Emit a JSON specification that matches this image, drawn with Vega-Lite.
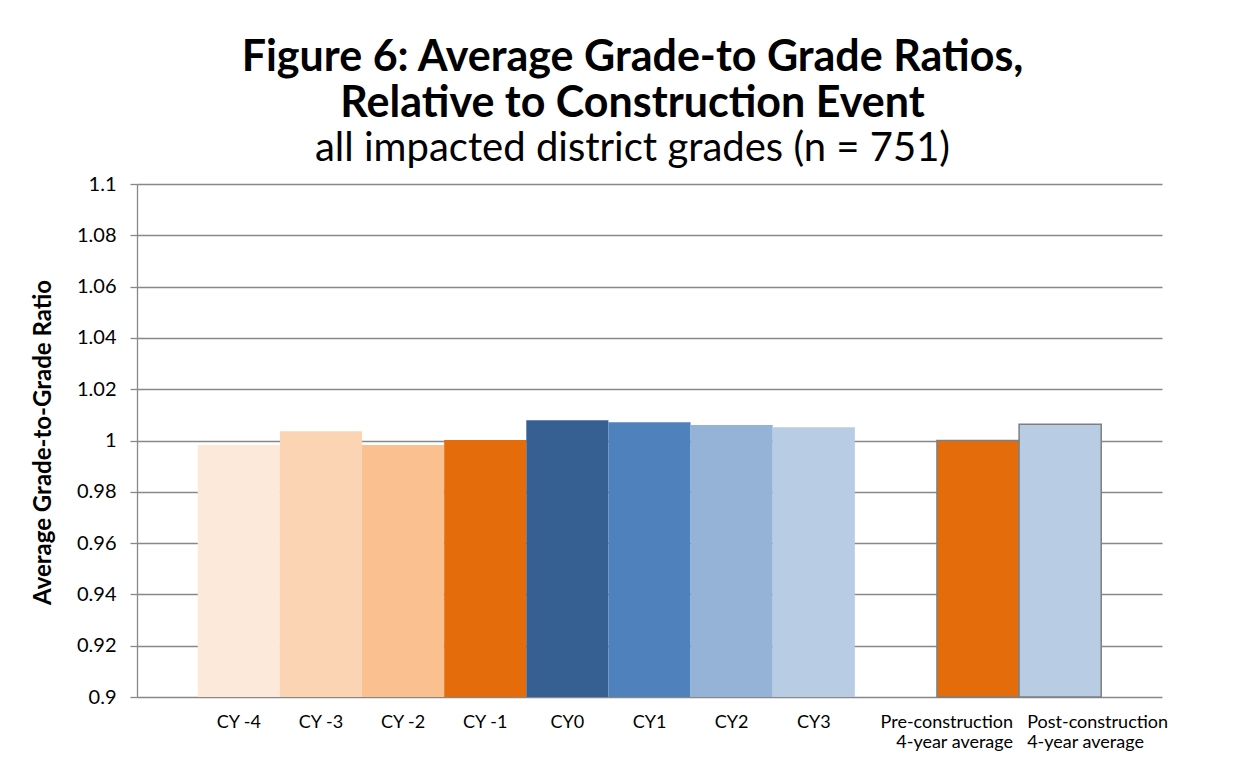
{
  "$schema": "https://vega.github.io/schema/vega-lite/v6.json",
  "width": 1025,
  "height": 513,
  "autosize": {"type": "none"},
  "padding": {"left": 137, "top": 184, "right": 85, "bottom": 65},
  "background": "white",
  "config": {"view": {"stroke": null}},
  "title": {
    "text": ["Figure 6: Average Grade-to Grade Ratios,", "Relative to Construction Event"],
    "subtitle": "all impacted district grades (n = 751)",
    "font": "Lato",
    "fontSize": 43,
    "fontWeight": "bold",
    "color": "black",
    "subtitleFont": "Lato",
    "subtitleFontSize": 40,
    "subtitleFontWeight": "normal",
    "subtitleColor": "black",
    "anchor": "middle",
    "dx": -17,
    "lineHeight": 46,
    "subtitleLineHeight": 44,
    "subtitlePadding": 3,
    "offset": 5
  },
  "data": {
    "values": [
      {"cat": "CY -4", "ratio": 0.9982},
      {"cat": "CY -3", "ratio": 1.0036},
      {"cat": "CY -2", "ratio": 0.9982},
      {"cat": "CY -1", "ratio": 1.0002},
      {"cat": "CY0", "ratio": 1.0079},
      {"cat": "CY1", "ratio": 1.0071},
      {"cat": "CY2", "ratio": 1.006},
      {"cat": "CY3", "ratio": 1.0052},
      {"cat": "Pre-construction|4-year average", "ratio": 1.0},
      {"cat": "Post-construction|4-year average", "ratio": 1.0063}
    ]
  },
  "mark": {"type": "bar", "stroke": "#7f7f7f"},
  "encoding": {
    "x": {
      "field": "cat",
      "type": "nominal",
      "sort": null,
      "scale": {
        "domain": ["CY -4", "CY -3", "CY -2", "CY -1", "CY0", "CY1", "CY2", "CY3", " ", "Pre-construction|4-year average", "Post-construction|4-year average"],
        "paddingInner": 0,
        "paddingOuter": 0.74
      },
      "axis": {
        "title": null,
        "labelAngle": 0,
        "domain": false,
        "ticks": false,
        "labelFont": "Lato",
        "labelFontSize": 18,
        "labelColor": "black",
        "labelPadding": 16,
        "labelBaseline": "top",
        "labelLineHeight": 20,
        "labelExpr": "split(datum.value, '|')",
        "labelAlign": {
          "condition": [
            {"test": "indexof(datum.value, 'Pre-') == 0", "value": "right"},
            {"test": "indexof(datum.value, 'Post-') == 0", "value": "left"}
          ],
          "value": "center"
        },
        "labelOffset": {
          "condition": [
            {"test": "indexof(datum.value, 'Pre-') == 0", "value": 35},
            {"test": "indexof(datum.value, 'Post-') == 0", "value": -33}
          ],
          "value": 0
        }
      }
    },
    "y": {
      "field": "ratio",
      "type": "quantitative",
      "scale": {"domain": [0.9, 1.1], "zero": false, "nice": false},
      "axis": {
        "values": [0.9, 0.92, 0.94, 0.96, 0.98, 1, 1.02, 1.04, 1.06, 1.08, 1.1],
        "format": "~g",
        "title": "Average Grade-to-Grade Ratio",
        "titleFont": "Lato",
        "titleFontSize": 24,
        "titleFontWeight": "bold",
        "titleColor": "black",
        "titleX": -94,
        "titleY": 258,
        "titleBaseline": "middle",
        "titleAlign": "center",
        "titleAngle": -90,
        "labelFont": "Lato",
        "labelFontSize": 20,
        "labelColor": "black",
        "labelPadding": 14,
        "tickSize": 7,
        "tickColor": "#888888",
        "tickWidth": 1.3,
        "domainColor": "#888888",
        "domainWidth": 1.3,
        "grid": true,
        "gridColor": "#888888",
        "gridWidth": 1.3
      }
    },
    "y2": {"datum": 0.9},
    "color": {
      "field": "cat",
      "type": "nominal",
      "scale": {
        "domain": ["CY -4", "CY -3", "CY -2", "CY -1", "CY0", "CY1", "CY2", "CY3", "Pre-construction|4-year average", "Post-construction|4-year average"],
        "range": ["#FDE9D9", "#FBD4B4", "#FAC090", "#E46C0A", "#366092", "#4F81BD", "#95B3D7", "#B8CCE4", "#E46C0A", "#B8CCE4"]
      },
      "legend": null
    },
    "strokeWidth": {
      "condition": {"test": "indexof(datum.cat, 'construction') > 0", "value": 1.5},
      "value": 0
    }
  }
}
